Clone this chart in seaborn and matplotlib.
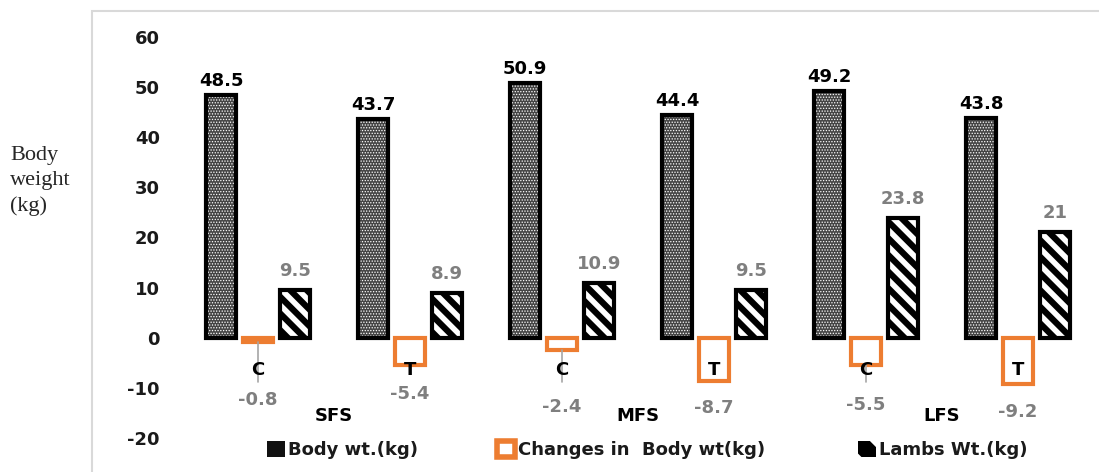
import matplotlib
matplotlib.use("Agg")
import matplotlib.pyplot as plt
import pandas as pd
import seaborn as sns
from matplotlib.patches import Patch, Rectangle

# data
systems = ["SFS", "MFS", "LFS"]
treatments = ["C", "T"]
body_wt = [48.5, 43.7, 50.9, 44.4, 49.2, 43.8]
change_wt = [-0.8, -5.4, -2.4, -8.7, -5.5, -9.2]
lambs_wt = [9.5, 8.9, 10.9, 9.5, 23.8, 21.0]
series = ["Body wt.(kg)", "Changes in  Body wt(kg)", "Lambs Wt.(kg)"]
yticks = [-20, -10, 0, 10, 20, 30, 40, 50, 60]

# hand placed label heights (data units) for the change values, as in the source
change_label_y = [-12.4, -11.2, -13.8, -14.0, -13.4, -14.8]

ORANGE = "#ED7D31"
GREY = "#7f7f7f"

cats = [f"{s}-{t}" for s in systems for t in treatments]
df = pd.DataFrame({
    "cat": cats * 3,
    "series": [series[0]] * 6 + [series[1]] * 6 + [series[2]] * 6,
    "value": body_wt + change_wt + lambs_wt,
})

sns.set_theme(style="white")
plt.rcParams["font.family"] = ["DejaVu Sans"]
plt.rcParams["hatch.linewidth"] = 4.5

fig = plt.figure(figsize=(10.99, 4.72), dpi=100)
ax = fig.add_axes([182 / 1099, 34 / 472, 912 / 1099, 401 / 472])

sns.barplot(data=df, x="cat", y="value", hue="series", hue_order=series,
            palette=["#444444", "white", "white"], width=0.73, gap=0.2,
            errorbar=None, legend=False, ax=ax)

body_c, change_c, lamb_c = ax.containers
for p in body_c:
    # dotted fill: white dots on dark grey, then a black frame on top
    p.set_hatch("......")
    p.set_edgecolor("white")
    p.set_linewidth(0)
    if hasattr(p, "set_hatch_linewidth"):
        p.set_hatch_linewidth(0.6)
    ax.add_patch(Rectangle(p.get_xy(), p.get_width(), p.get_height(),
                           fill=False, edgecolor="black", lw=3, zorder=3))
for p in change_c:
    p.set_facecolor("white")
    p.set_edgecolor(ORANGE)
    p.set_linewidth(3)
for p in lamb_c:
    p.set_facecolor("white")
    p.set_edgecolor("black")
    p.set_linewidth(3)
    p.set_hatch("\\\\")

ax.set_xlim(-0.5, 5.5)
ax.set_ylim(-20, 60)
ax.set_yticks(yticks)
ax.set_yticklabels([str(v) for v in yticks], fontsize=13, fontweight="bold", color="#1a1a1a")
ax.tick_params(axis="y", length=0, pad=16)
ax.set_xticks([])
ax.set_xlabel("")
ax.set_ylabel("")
for s in ax.spines.values():
    s.set_visible(False)

lbl = dict(fontsize=13, fontweight="bold", ha="center", va="center")
for p, v in zip(body_c, body_wt):
    ax.annotate(f"{v:g}", (p.get_x() + p.get_width() / 2, v), xytext=(0, 10),
                textcoords="offset points", color="black", **lbl)
for p, v in zip(lamb_c, lambs_wt):
    ax.annotate(f"{v:g}", (p.get_x() + p.get_width() / 2, v), xytext=(0, 14),
                textcoords="offset points", color=GREY, **lbl)
for i, (v, ly) in enumerate(zip(change_wt, change_label_y)):
    ax.text(i, ly, f"{v:g}", color=GREY, **lbl)
    if treatments[i % 2] == "C":
        ax.plot([i, i], [v, -8.9], color="#a6a6a6", lw=1.2, zorder=1)
    ax.text(i, -6.4, treatments[i % 2], color="black", zorder=5, **lbl)
for j, s in enumerate(systems):
    ax.text(2 * j + 0.5, -15.7, s, color="black", **lbl)

# legend entries sit at uneven spots under the plot
handles = [
    Patch(facecolor="#111111", lw=0),
    Patch(facecolor="white", edgecolor=ORANGE, lw=4),
    Patch(facecolor="black", edgecolor="white", hatch="\\", lw=0),
]
for h, s, x in zip(handles, series, [267, 497, 858]):
    leg = fig.legend([h], [s], loc="center left", bbox_to_anchor=(x / 1099, 1 - 450 / 472),
                     frameon=False, borderpad=0, borderaxespad=0, handlelength=1.0,
                     handleheight=1.0, handletextpad=0.15,
                     prop={"family": "DejaVu Sans", "size": 13, "weight": "bold"})
    for t in leg.get_texts():
        t.set_color("#1a1a1a")

fig.text(10 / 1099, 1 - 181 / 472, "Body\nweight\n(kg)", family="Liberation Serif",
         fontsize=16, ha="left", va="center", linespacing=1.4)

fig.add_artist(Rectangle((92 / 1099, -0.1), 1.0, 1.1 - 11 / 472, transform=fig.transFigure,
                         fill=False, edgecolor="#d9d9d9", lw=1.5))

fig.savefig("out.png", dpi=100)
